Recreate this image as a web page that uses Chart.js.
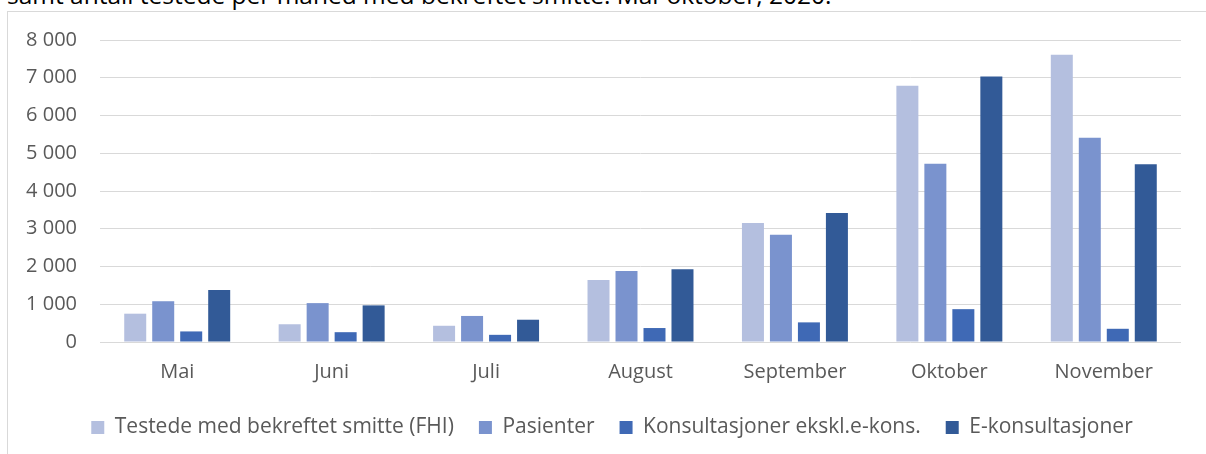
<!DOCTYPE html>
<html>
<head>
<meta charset="utf-8">
<script src="https://cdn.jsdelivr.net/npm/chart.js@4"></script>
<style>
  html, body { margin: 0; padding: 0; background: #fff; }
  body { width: 1206px; height: 454px; overflow: hidden; position: relative; }
  #caption {
    position: absolute; left: 7px; top: -17px;
    font-family: 'Open Sans', sans-serif; font-size: 24.5px; line-height: 24.5px;
    color: #000; white-space: nowrap;
  }
  #frame {
    position: absolute; left: 7px; top: 11px; width: 1300px; height: 500px;
    border-left: 1px solid #D9D9D9; border-top: 1px solid #D9D9D9;
  }
  #chart { position: absolute; left: 7px; top: 5px; }
</style>
</head>
<body>
<div id="caption">samt antall testede per måned med bekreftet smitte. Mai-oktober, 2020.</div>
<div id="frame"></div>
<canvas id="chart" width="1210" height="449"></canvas>
<script>
// data
const months = ['Mai', 'Juni', 'Juli', 'August', 'September', 'Oktober', 'November'];
const testede = [750, 470, 430, 1640, 3150, 6790, 7610];
const pasienter = [1080, 1030, 690, 1880, 2840, 4720, 5410];
const konsultasjoner = [280, 260, 190, 370, 520, 870, 350];
const eKonsultasjoner = [1380, 970, 590, 1930, 3420, 7030, 4710];
const yTickLabels = ['0', '1 000', '2 000', '3 000', '4 000', '5 000', '6 000', '7 000', '8 000'];

const seriesNames = ['Testede med bekreftet smitte (FHI)', 'Pasienter', 'Konsultasjoner ekskl.e-kons.', 'E-konsultasjoner'];
const seriesColors = ['#B4BFDF', '#7A93CE', '#3F69B5', '#325A97'];
const seriesData = [testede, pasienter, konsultasjoner, eKonsultasjoner];

Chart.defaults.font.family = "'Open Sans', sans-serif";
Chart.defaults.color = '#595959';

// the legend sits a little right of the canvas centre in the original
const legendShift = {
    id: 'legendShift',
    afterLayout(chart) {
        chart.legend.left += 18;
        chart.legend.right += 18;
    }
};

new Chart(document.getElementById('chart').getContext('2d'), {
    type: 'bar',
    data: {
        labels: months,
        datasets: seriesNames.map((name, i) => ({
            label: name,
            data: seriesData[i],
            backgroundColor: seriesColors[i],
            borderWidth: 0,
            categoryPercentage: 0.725,
            barPercentage: 0.786
        }))
    },
    options: {
        responsive: false,
        animation: false,
        layout: { padding: { top: 24, right: 36, left: 0, bottom: 6 } },
        plugins: {
            tooltip: { enabled: false },
            legend: {
                position: 'bottom',
                labels: {
                    boxWidth: 13,
                    boxHeight: 13,
                    padding: 25,
                    font: { size: 21 },
                    color: '#595959'
                }
            }
        },
        scales: {
            x: {
                grid: { display: false },
                border: { display: false },
                ticks: { font: { size: 20 }, padding: 10, color: '#595959' },
                afterFit: scale => { scale.height = 50; }
            },
            y: {
                min: 0,
                max: 8000,
                grid: { color: '#D9D9D9', lineWidth: 1, drawTicks: false },
                border: { display: false },
                ticks: {
                    stepSize: 1000,
                    padding: 23,
                    font: { size: 20 },
                    color: '#595959',
                    callback: (v, i) => yTickLabels[i]
                },
                afterFit: scale => { scale.width = 93; }
            }
        }
    },
    plugins: [legendShift]
});
</script>
</body>
</html>
